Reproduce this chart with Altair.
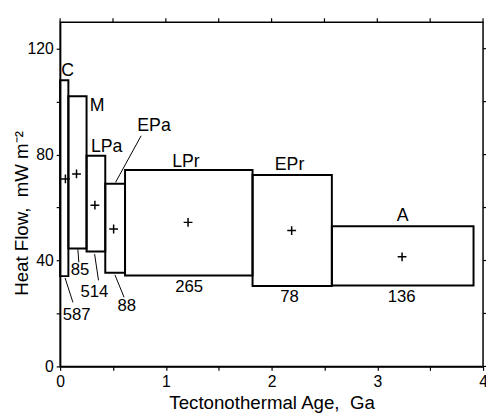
import altair as alt
import pandas as pd

# Province boxes
names = ["C", "M", "LPa", "EPa", "LPr", "EPr", "A"]
age_start = [0.0, 0.078, 0.25, 0.427, 0.614, 1.82, 2.57]
age_end = [0.078, 0.25, 0.427, 0.614, 1.82, 2.57, 3.91]
hf_low = [34.1, 44.5, 43.4, 35.4, 34.3, 30.4, 30.6]
hf_high = [108.1, 102.0, 79.6, 69.0, 74.2, 72.3, 52.9]
mean_age = [0.05, 0.155, 0.329, 0.506, 1.21, 2.19, 3.234]
mean_hf = [70.8, 72.7, 60.9, 51.9, 54.4, 51.3, 41.4]
counts = ["587", "85", "514", "88", "265", "78", "136"]

# Annotation anchors (data units)
name_x = [0.07, 0.35, 0.44, 0.888, 1.19, 2.17, 3.24]
name_y = [111.6, 98.5, 82.7, 90.7, 77.0, 75.9, 56.7]
count_x = [0.157, 0.188, 0.324, 0.63, 1.22, 2.17, 3.23]
count_y = [19.5, 36.2, 28.0, 22.9, 30.0, 26.1, 26.1]

leader_x1 = [0.766, 0.047, 0.168, 0.326, 0.518]
leader_y1 = [87.1, 33.4, 44.2, 42.4, 34.6]
leader_x2 = [0.524, 0.121, 0.177, 0.363, 0.605]
leader_y2 = [69.5, 24.2, 39.3, 32.5, 26.1]

x_ticks = [0, 0.5, 1, 1.5, 2, 2.5, 3, 3.5, 4]
y_ticks = [0, 20, 40, 60, 80, 100, 120]

FONT = "Liberation Sans"
W, H = 430, 350

boxes = pd.DataFrame({"name": names, "x0": age_start, "x1": age_end,
                      "y0": hf_low, "y1": hf_high})
means = pd.DataFrame({"x": mean_age, "y": mean_hf})
name_df = pd.DataFrame({"t": names, "x": name_x, "y": name_y})
count_df = pd.DataFrame({"t": counts, "x": count_x, "y": count_y})
lead_df = pd.DataFrame({"x": leader_x1, "y": leader_y1, "x2": leader_x2, "y2": leader_y2})
xt_df = pd.DataFrame({"v": x_ticks})
yt_df = pd.DataFrame({"v": y_ticks})

xs = alt.Scale(domain=[0, 4], nice=False, zero=False)
ys = alt.Scale(domain=[0, 130], nice=False)

common_axis = dict(domainColor="black", domainWidth=1.5, tickColor="black",
                   tickWidth=1.2, tickSize=4, grid=False, labelFont=FONT,
                   labelFontSize=16, labelColor="black", titleFont=FONT,
                   titleFontSize=19, titleColor="black", titleFontWeight="normal",
                   labelFlush=False, labelOverlap=False)

x_bottom = alt.Axis(values=x_ticks,
                    labelExpr="datum.value % 1 == 0 ? format(datum.value, 'd') : ''",
                    title="Tectonothermal Age,\u00a0 Ga", labelPadding=3,
                    titleBaseline="alphabetic", titleY=43, **common_axis)
y_left = alt.Axis(values=y_ticks,
                  labelExpr="datum.value % 40 == 0 ? format(datum.value, 'd') : ''",
                  title="Heat Flow,\u00a0 mW m\u207b\u00b2", labelPadding=3,
                  titleBaseline="middle", titleAngle=270, titleX=-39, titleY=194,
                  **common_axis)

rects = alt.Chart(boxes).mark_rect(fill="white", fillOpacity=0, stroke="black",
                                   strokeWidth=2).encode(
    x=alt.X("x0:Q", scale=xs, axis=x_bottom),
    x2="x1:Q",
    y=alt.Y("y0:Q", scale=ys, axis=y_left),
    y2="y1:Q",
)

top_ticks = alt.Chart(xt_df).mark_rule(color="black", strokeWidth=1.2).encode(
    x=alt.X("v:Q", scale=xs),
    y=alt.value(0),
    y2=alt.value(-4),
)

right_ticks = alt.Chart(yt_df).mark_rule(color="black", strokeWidth=1.2).encode(
    y=alt.Y("v:Q", scale=ys),
    x=alt.value(W),
    x2=alt.value(W + 4),
)

plus = alt.Chart(means).mark_point(shape="M-1,0L1,0M0,-1L0,1", size=80, filled=False,
                                   stroke="black", strokeWidth=1.5, opacity=1).encode(
    x=alt.X("x:Q", scale=xs),
    y=alt.Y("y:Q", scale=ys),
)

leaders = alt.Chart(lead_df).mark_rule(color="black", strokeWidth=1).encode(
    x=alt.X("x:Q", scale=xs),
    y=alt.Y("y:Q", scale=ys),
    x2="x2:Q",
    y2="y2:Q",
)

name_text = alt.Chart(name_df).mark_text(font=FONT, fontSize=18, color="black",
                                         baseline="middle", align="center").encode(
    x=alt.X("x:Q", scale=xs),
    y=alt.Y("y:Q", scale=ys),
    text="t:N",
)

count_text = alt.Chart(count_df).mark_text(font=FONT, fontSize=17, color="black",
                                           baseline="middle", align="center").encode(
    x=alt.X("x:Q", scale=xs),
    y=alt.Y("y:Q", scale=ys),
    text="t:N",
)

chart = alt.layer(rects, top_ticks, right_ticks, plus, leaders, name_text, count_text).properties(
    width=W, height=H,
    padding={"left": 53, "top": 11, "right": 3, "bottom": 49},
    autosize=alt.AutoSizeParams(type="none"),
).configure_view(stroke="black", strokeWidth=1.5)

chart.save("out.html", embed_options={"renderer": "svg", "actions": False})
